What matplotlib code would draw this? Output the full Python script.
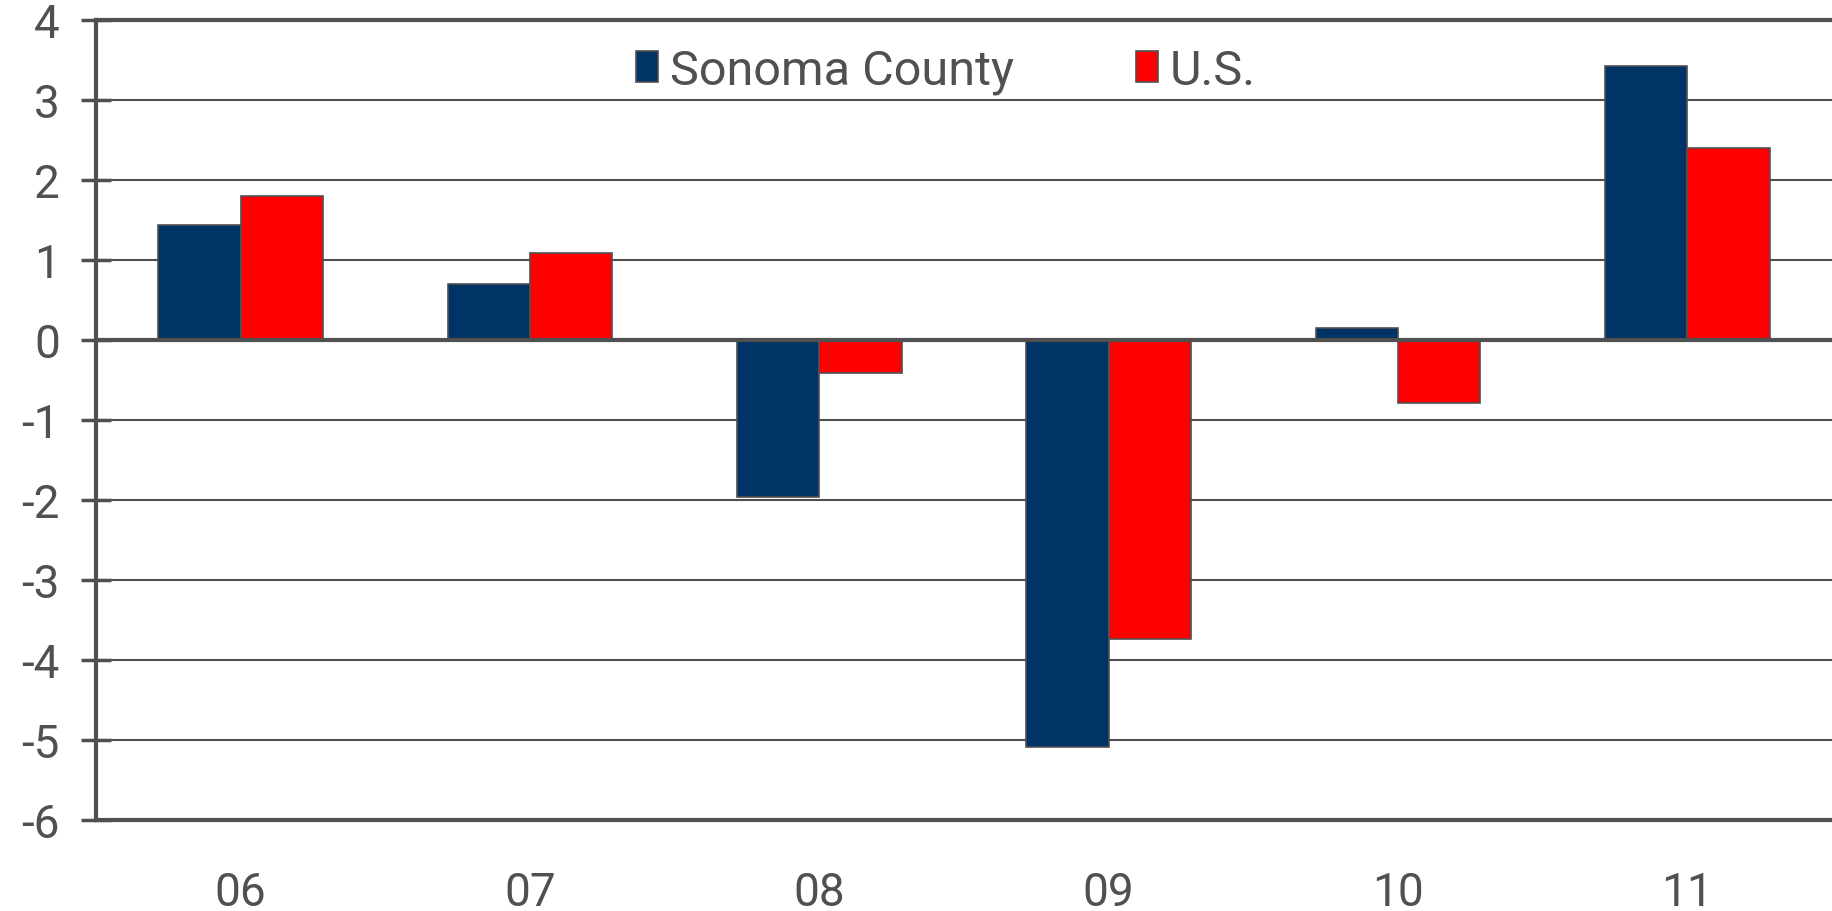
import numpy as np
import matplotlib.pyplot as plt

# Data
years = ['06', '07', '08', '09', '10', '11']
sonoma = [1.44, 0.70, -1.96, -5.09, 0.15, 3.43]
us = [1.80, 1.09, -0.41, -3.74, -0.79, 2.40]

plt.rcParams['font.family'] = ['Roboto', 'DejaVu Sans']
plt.rcParams['axes.unicode_minus'] = False
grey = '#505050'

fig = plt.figure(figsize=(18.32, 9.12), dpi=100)
ax = fig.add_axes([0.0524, 0.0998, 0.9476, 0.8772])

x = np.arange(len(years))
w = 0.285
ax.bar(x - w / 2, sonoma, w, color='#003366', edgecolor=grey, linewidth=1.2,
       label='Sonoma County', zorder=3)
ax.bar(x + w / 2, us, w, color='#ff0000', edgecolor=grey, linewidth=1.2,
       label='U.S.', zorder=3)

ax.set_xlim(-0.5, 5.5)
ax.set_ylim(-6, 4)
ax.set_yticks(range(-6, 5))
ax.set_xticks(x)
ax.set_xticklabels(years)

# gridlines and the thick zero line
ax.yaxis.grid(True, color=grey, linewidth=1.5, zorder=1)
ax.axhline(0, color=grey, linewidth=3, zorder=4)

for side in ['left', 'bottom', 'top']:
    ax.spines[side].set_color(grey)
    ax.spines[side].set_linewidth(3)
ax.spines['right'].set_visible(False)

ax.tick_params(axis='y', direction='inout', length=22, width=2.5, color=grey,
               labelsize=33, labelcolor=grey, pad=15)
ax.tick_params(axis='x', length=0, labelsize=33, labelcolor=grey, pad=36)

leg = fig.legend(loc='center left', bbox_to_anchor=(612 / 1832, 1 - 72 / 912),
                 ncol=2, frameon=False, fontsize=35, borderpad=0,
                 handlelength=0.45, handleheight=0.6,
                 handletextpad=0.25, columnspacing=2.5)
for t in leg.get_texts():
    t.set_color(grey)

fig.savefig('out.png', dpi=100)
